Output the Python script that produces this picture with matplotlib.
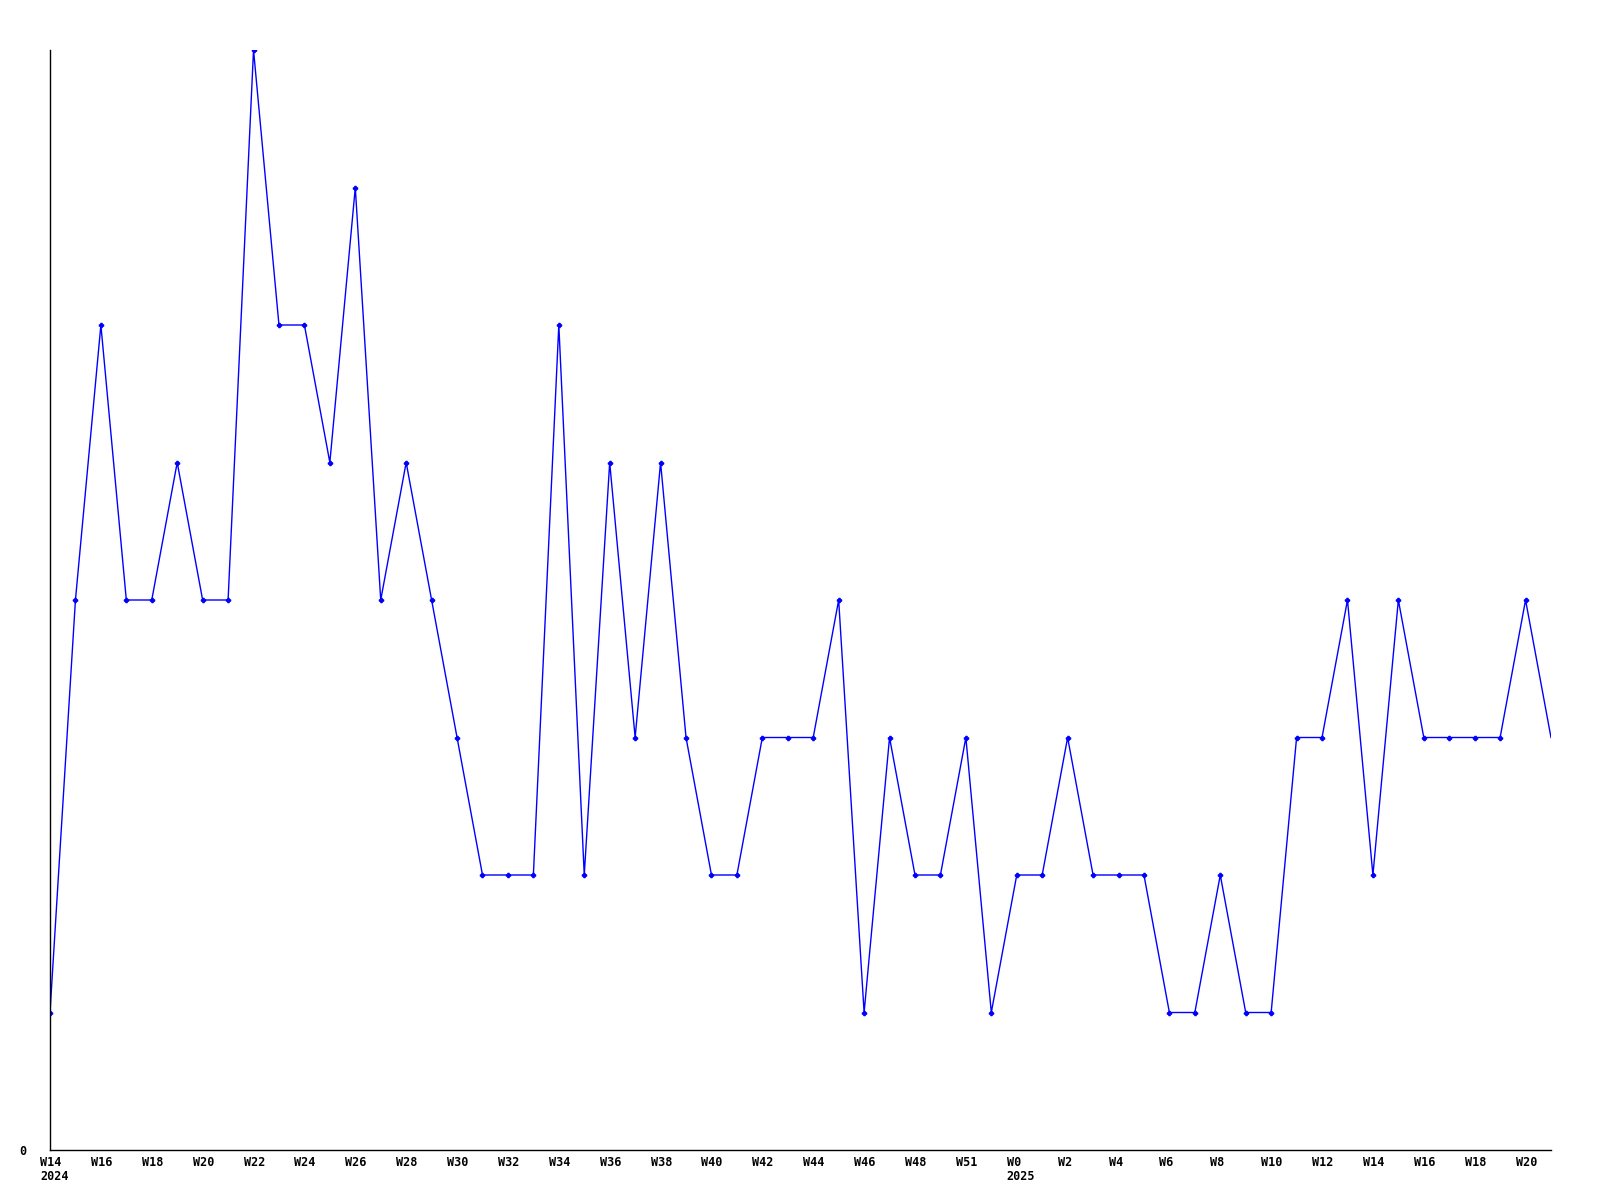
import matplotlib
matplotlib.use("Agg")
import matplotlib.pyplot as plt
import matplotlib.transforms as mtransforms
import numpy as np

# weekly counts, W14 2024 .. W21 2025
counts = [1, 4, 6, 4, 4, 5, 4, 4, 8, 6,
          6, 5, 7, 4, 5, 4, 3, 2, 2, 2,
          6, 2, 5, 3, 5, 3, 2, 2, 3, 3,
          3, 4, 1, 3, 2, 2, 3, 1, 2, 2,
          3, 2, 2, 2, 1, 1, 2, 1, 1, 3,
          3, 4, 2, 4, 3, 3, 3, 3, 4, 3]

tick_labels = ["W14\n2024", "W16", "W18", "W20", "W22", "W24", "W26", "W28",
               "W30", "W32", "W34", "W36", "W38", "W40", "W42", "W44", "W46",
               "W48", "W51", "W0\n2025", "W2", "W4", "W6", "W8", "W10", "W12",
               "W14", "W16", "W18", "W20"]

x = np.arange(len(counts))

fig = plt.figure(figsize=(16, 12), dpi=100)
ax = fig.add_axes([50 / 1600, 50 / 1200, 1501 / 1600, 1100 / 1200])

ax.plot(x, counts, color="#0000ff", linewidth=1.0, marker="P", markersize=3,
        markevery=list(range(len(counts) - 1)))

ax.set_xlim(0, len(counts) - 1)
ax.set_ylim(0, 8)

ax.spines["top"].set_visible(False)
ax.spines["right"].set_visible(False)
ax.spines["left"].set_linewidth(1.0)
ax.spines["bottom"].set_linewidth(1.0)

ax.tick_params(axis="x", length=0, pad=4.5)
ax.tick_params(axis="y", length=0, pad=17)

ax.set_xticks(x[::2])
ax.set_xticklabels(tick_labels, family="DejaVu Sans Mono", fontweight="bold",
                   fontsize=8.5, ha="left", va="top", linespacing=1.05)
shift = mtransforms.ScaledTranslation(-10 / 100, 0, fig.dpi_scale_trans)
for lbl in ax.get_xticklabels():
    lbl.set_transform(lbl.get_transform() + shift)

ax.set_yticks([0])
ax.set_yticklabels(["0"], family="DejaVu Sans Mono", fontweight="bold", fontsize=8.5)

fig.savefig("out.png", dpi=100)
